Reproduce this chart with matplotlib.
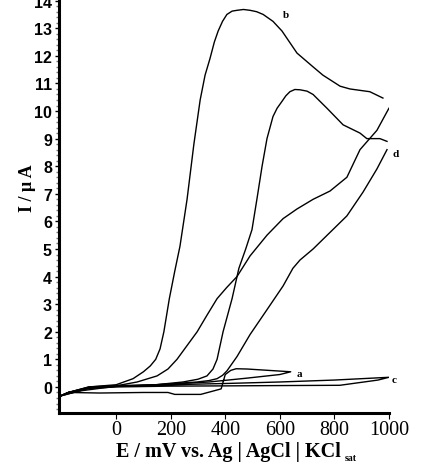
import matplotlib.pyplot as plt
from matplotlib.ticker import MultipleLocator

# curve b (biggest peak)
E_b = [-205, -175, -100, 0, 62, 100, 125, 145, 161, 175, 195, 215, 234, 260, 285, 308, 326,
       344, 360, 374, 390, 406, 425, 443, 467, 491, 515, 539, 575, 608, 663, 722, 758, 821,
       857, 930, 978]
I_b = [-0.33, -0.2, 0.0, 0.08, 0.3, 0.55, 0.76, 1.0, 1.38, 2.0, 3.2, 4.2, 5.1, 6.8, 8.8,
       10.4, 11.3, 11.9, 12.5, 12.9, 13.25, 13.5, 13.62, 13.65, 13.68, 13.65, 13.6, 13.5,
       13.25, 12.9, 12.1, 11.6, 11.3, 10.9, 10.8, 10.7, 10.47]

# second curve (peak near 680 mV)
E_2 = [-205, -175, -60, 0, 125, 245, 300, 333, 355, 370, 392, 425, 450, 475, 498, 516, 535,
       553, 575, 590, 608, 622, 637, 655, 674, 700, 722, 773, 832, 894, 919, 967, 993]
I_2 = [-0.33, -0.2, -0.05, 0.02, 0.06, 0.18, 0.28, 0.4, 0.65, 1.0, 2.0, 3.2, 4.3, 5.0, 5.7,
       6.8, 8.0, 9.0, 9.8, 10.1, 10.35, 10.55, 10.7, 10.78, 10.77, 10.72, 10.6, 10.1, 9.5,
       9.2, 9.0, 9.0, 8.9]

# third curve (goes to ~10 at 1000 mV)
E_3 = [-205, -175, -100, 0, 77, 150, 190, 223, 260, 297, 333, 370, 405, 443, 491, 553, 612,
       663, 722, 784, 846, 894, 956, 1000]
I_3 = [-0.33, -0.2, -0.02, 0.04, 0.18, 0.4, 0.65, 1.0, 1.5, 2.0, 2.6, 3.2, 3.6, 4.0, 4.75,
       5.5, 6.1, 6.45, 6.8, 7.1, 7.6, 8.6, 9.3, 10.1]

# curve d
E_d = [-205, -175, -100, 0, 150, 297, 340, 370, 390, 406, 443, 491, 553, 612, 648, 674, 722,
       784, 846, 905, 956, 993]
I_d = [-0.33, -0.2, -0.03, 0.03, 0.08, 0.18, 0.23, 0.3, 0.42, 0.58, 1.1, 1.9, 2.8, 3.66,
       4.3, 4.6, 5.0, 5.6, 6.2, 7.06, 7.9, 8.6]

# curve a (small loop)
E_a = [-205, -175, -60, 100, 190, 215, 310, 385, 400, 420, 440, 480, 560, 640, 600, 480,
       341, 250, 100, 0, -100, -205]
I_a = [-0.33, -0.2, -0.22, -0.2, -0.2, -0.27, -0.27, -0.07, 0.45, 0.6, 0.66, 0.65, 0.6,
       0.55, 0.45, 0.32, 0.18, 0.13, 0.06, 0.02, -0.05, -0.33]

# curve c (flat loop up to 1000 mV)
E_c = [-205, -175, -100, 0, 200, 418, 600, 800, 1000, 960, 820, 600, 420, 200, 0, -100, -205]
I_c = [-0.33, -0.2, 0.0, 0.05, 0.08, 0.13, 0.18, 0.25, 0.35, 0.25, 0.06, 0.05, 0.04, 0.03,
       0.0, -0.05, -0.33]

labels = [('b', 610, 13.5), ('d', 1012, 8.45), ('a', 662, 0.48), ('c', 1010, 0.28)]

fig = plt.figure(figsize=(4.36, 4.64), dpi=100)
ax = fig.add_axes([0.135, 0.108, 0.757, 0.892])

for E, I in [(E_b, I_b), (E_2, I_2), (E_3, I_3), (E_d, I_d), (E_a, I_a), (E_c, I_c)]:
    ax.plot(E, I, color='black', lw=1.0, solid_joinstyle='round')

for txt, x, y in labels:
    ax.text(x, y, txt, fontsize=8, fontweight='bold', family='Liberation Serif',
            va='center', ha='left')

ax.set_xlim(-210, 1000)
ax.set_ylim(-0.94, 14.06)
ax.set_xticks([0, 200, 400, 600, 800, 1000])
ax.set_yticks(range(0, 15))
ax.yaxis.set_minor_locator(MultipleLocator(0.2))

for s in ['top', 'right']:
    ax.spines[s].set_visible(False)
for s in ['left', 'bottom']:
    ax.spines[s].set_linewidth(2.2)

ax.tick_params(axis='y', which='major', length=3, width=1, pad=2)
ax.tick_params(axis='y', which='minor', length=2, width=1, color='#777777')
ax.tick_params(axis='x', which='major', length=4, width=0.8, pad=1)
for t in ax.get_yticklabels():
    t.set_family('Liberation Sans')
    t.set_fontweight('bold')
    t.set_fontsize(11.5)
for t in ax.get_xticklabels():
    t.set_family('Liberation Serif')
    t.set_fontsize(14.5)

fig.text(0.523, 0.026, 'E / mV vs. Ag | AgCl | KCl', ha='center', va='center',
         fontsize=14.5, fontweight='bold', family='Liberation Serif')
fig.text(0.791, 0.012, 'sat', ha='left', va='center',
         fontsize=7, fontweight='bold', family='Liberation Serif')
fig.text(0.062, 0.595, 'I / μ A', rotation=90, ha='center', va='center',
         fontsize=13, fontweight='bold', family='Liberation Serif')

fig.savefig('out.png', dpi=100)
